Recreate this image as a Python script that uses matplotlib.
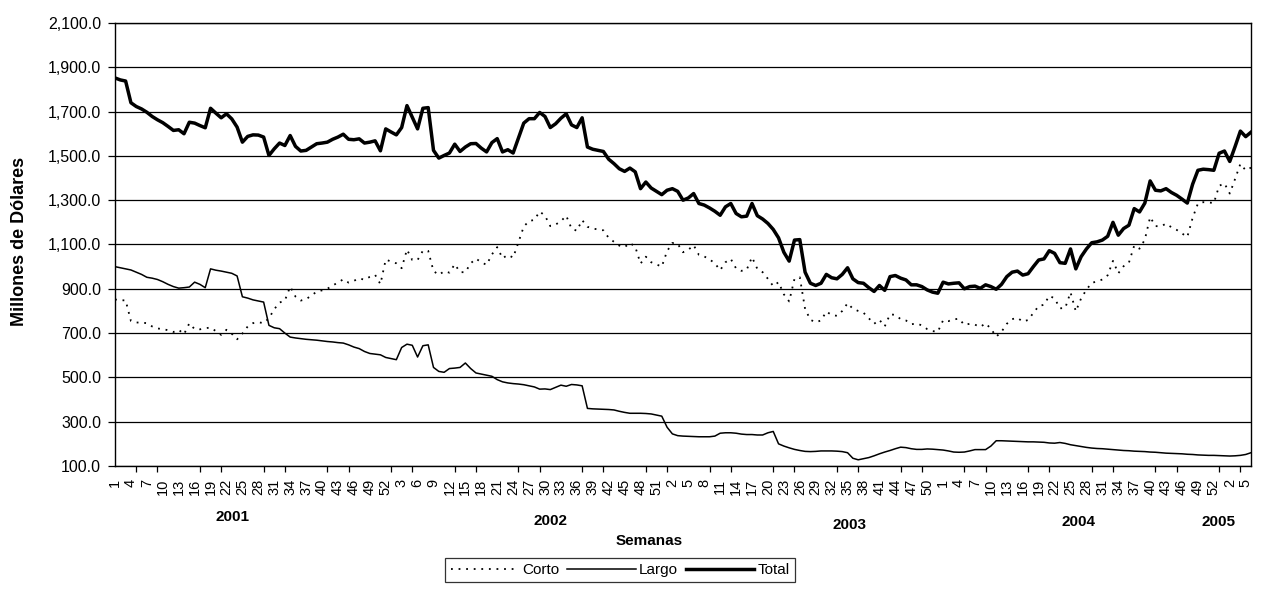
#!/usr/bin/env python3
"""
Posicion semanal: Corto, Largo y Total (millones de dolares), 2001-2005
"""

import matplotlib
matplotlib.use("Agg")
import matplotlib.pyplot as plt

# years on the axis and how many weeks of each are shown
anios = [2001, 2002, 2003, 2004, 2005]
semanas_por_anio = [52, 52, 52, 53, 6]

# weekly values (millones de dolares)
total = [
    1852, 1843, 1838, 1740, 1723, 1712, 1697, 1678, 1663, 1650,
    1633, 1615, 1618, 1600, 1652, 1648, 1637, 1627, 1715, 1693,
    1672, 1690, 1667, 1630, 1562, 1588, 1595, 1594, 1585, 1502,
    1532, 1558, 1547, 1592, 1543, 1522, 1525, 1540, 1555, 1558,
    1562, 1575, 1585, 1598, 1575, 1573, 1577, 1558, 1562, 1568,
    1523, 1622, 1608, 1595, 1628, 1727, 1675, 1622, 1715, 1718,
    1525, 1490, 1502, 1513, 1553, 1520, 1540, 1555, 1556, 1535,
    1518, 1560, 1578, 1518, 1528, 1513, 1580, 1648, 1668, 1668,
    1696, 1678, 1628, 1645, 1670, 1690, 1640, 1628, 1672, 1540,
    1530, 1525, 1520, 1485, 1465, 1442, 1430, 1445, 1428, 1352,
    1382, 1355, 1340, 1325, 1345, 1352, 1340, 1300, 1310, 1330,
    1285, 1278, 1265, 1250, 1232, 1270, 1285, 1240, 1225, 1228,
    1285, 1230, 1215, 1195, 1168, 1130, 1065, 1025, 1120, 1122,
    975, 925, 915, 925, 965, 950, 945, 965, 995, 945,
    928, 925, 905, 888, 915, 893, 955, 960, 948, 940,
    918, 918, 910, 895, 885, 880, 930, 922, 925, 927,
    900, 910, 912, 902, 918, 910, 898, 920, 955, 975,
    980, 962, 968, 1000, 1030, 1035, 1072, 1060, 1018, 1015,
    1080, 990, 1045, 1080, 1108, 1112, 1120, 1137, 1200, 1142,
    1172, 1187, 1262, 1247, 1287, 1387, 1345, 1342, 1352, 1335,
    1322, 1305, 1287, 1372, 1435, 1440, 1438, 1435, 1512, 1522,
    1475, 1542, 1612, 1587, 1607,
]

largo = [
    1000, 995, 990, 985, 975, 965, 952, 948, 942, 932,
    920, 910, 903, 905, 908, 930, 920, 905, 990, 984,
    980, 975, 970, 958, 864, 858, 850, 845, 840, 735,
    724, 720, 700, 682, 678, 675, 672, 670, 668, 665,
    662, 660, 657, 655, 647, 637, 630, 617, 608, 605,
    602, 590, 585, 580, 635, 650, 645, 592, 643, 647,
    545, 527, 523, 540, 542, 545, 565, 540, 520, 515,
    510, 505, 490, 480, 475, 472, 470, 467, 462, 457,
    447, 448, 445, 455, 465, 460, 468, 466, 462, 360,
    358, 357, 356, 355, 353, 347, 342, 338, 338, 338,
    337, 335, 330, 325, 275, 245, 237, 235, 234, 233,
    232, 232, 232, 235, 248, 250, 250, 248, 244, 242,
    242, 240, 240, 250, 256, 200, 190, 182, 175, 170,
    166, 165, 166, 168, 168, 168, 167, 165, 160, 135,
    128, 133, 138, 146, 155, 163, 170, 178, 185, 183,
    178, 175, 175, 177, 176, 174, 172, 168, 163, 162,
    163, 168, 174, 174, 174, 190, 214, 214, 213, 212,
    211, 210, 209, 209, 208, 207, 204, 203, 206, 202,
    196, 192, 188, 184, 181, 179, 178, 176, 174, 172,
    170, 169, 167, 166, 165, 163, 162, 160, 158, 157,
    156, 155, 153, 152, 150, 149, 148, 148, 147, 146,
    145, 146, 148, 152, 160,
]

corto = [
    852, 848, 848, 755, 748, 747, 745, 730, 721, 718,
    713, 705, 715, 695, 744, 718, 717, 722, 725, 709,
    692, 715, 697, 672, 698, 730, 745, 749, 745, 767,
    808, 838, 847, 910, 865, 847, 853, 870, 887, 893,
    900, 915, 928, 943, 928, 936, 947, 941, 954, 963,
    921, 1032, 1023, 1015, 993, 1077, 1030, 1030, 1072, 1071,
    980, 963, 979, 973, 1011, 975, 975, 1015, 1036, 1020,
    1008, 1055, 1088, 1038, 1053, 1041, 1110, 1181, 1206, 1211,
    1249, 1230, 1183, 1190, 1205, 1230, 1172, 1162, 1210, 1180,
    1172, 1168, 1164, 1130, 1112, 1095, 1088, 1107, 1090, 1014,
    1045, 1020, 1010, 1000, 1070, 1107, 1103, 1065, 1076, 1097,
    1053, 1046, 1033, 1015, 984, 1020, 1035, 992, 981, 986,
    1043, 990, 975, 945, 912, 930, 875, 843, 945, 952,
    809, 760, 749, 757, 797, 782, 778, 800, 835, 810,
    800, 792, 767, 742, 760, 730, 785, 782, 763, 757,
    740, 743, 735, 718, 709, 706, 758, 754, 762, 765,
    737, 742, 738, 728, 744, 720, 684, 706, 742, 763,
    769, 752, 759, 791, 822, 828, 868, 857, 812, 813,
    884, 798, 857, 896, 927, 933, 942, 961, 1026, 970,
    1002, 1018, 1095, 1081, 1122, 1224, 1183, 1182, 1194, 1178,
    1166, 1150, 1134, 1220, 1285, 1291, 1290, 1287, 1365, 1376,
    1330, 1396, 1464, 1435, 1447,
]

y_ticks = [100, 300, 500, 700, 900, 1100, 1300, 1500, 1700, 1900, 2100]


def plot_chart():
    plt.rcParams['font.family'] = ['Liberation Sans', 'DejaVu Sans']

    # week number of every point on the category axis
    semanas = []
    for n in semanas_por_anio:
        semanas += list(range(1, n + 1))
    x = list(range(len(semanas)))

    W, H = 1263, 590
    fig = plt.figure(figsize=(W / 100, H / 100), dpi=100)
    ax = fig.add_axes([115 / W, 1 - 466 / H, (1251 - 115) / W, (466 - 23) / H])

    ax.plot(x, corto, color='black', lw=1.3, linestyle=(0, (1.0, 3.2)), label='Corto')
    ax.plot(x, largo, color='black', lw=1.1, label='Largo')
    ax.plot(x, total, color='black', lw=2.5, label='Total')

    ax.set_xlim(0, len(x) - 1)
    ax.set_ylim(100, 2100)

    # y axis
    ax.set_yticks(y_ticks)
    ax.set_yticklabels([f"{v:,.1f}" for v in y_ticks], fontsize=11.5)
    ax.yaxis.grid(True, color='black', lw=0.9)
    ax.set_axisbelow(True)
    ax.tick_params(axis='y', length=5, width=0.9, pad=5)

    # x axis: labels every 3 weeks, tick marks every 4
    ax.set_xticks(x[::3])
    ax.set_xticklabels([str(s) for s in semanas[::3]], rotation=90, fontsize=10.5)
    ax.tick_params(axis='x', which='major', length=0, pad=9)
    ax.set_xticks(x[::4], minor=True)
    ax.tick_params(axis='x', which='minor', length=4, width=0.9, direction='out')

    for sp in ax.spines.values():
        sp.set_color('black')
        sp.set_linewidth(1.0)

    # axis titles and year captions
    fig.text(20 / W, 1 - 241 / H, 'Millones de Dólares', rotation=90,
             ha='center', va='center', fontsize=13, fontweight='bold')
    fig.text(649 / W, 1 - 541 / H, 'Semanas', ha='center', va='center',
             fontsize=11, fontweight='bold')
    year_pos = [(232, 517), (550, 521), (850, 525), (1079, 522), (1218, 522)]
    for anio, (px, py) in zip(anios, year_pos):
        fig.text(px / W, 1 - py / H, str(anio), ha='center', va='center',
                 fontsize=11, fontweight='bold')

    leg = fig.legend(loc='center', bbox_to_anchor=(620 / W, 1 - 570 / H), ncol=3,
                     fontsize=11, handlelength=4.5, handletextpad=0.2,
                     columnspacing=0.5, borderpad=0.35, fancybox=False,
                     frameon=True, edgecolor='black')
    leg.get_frame().set_linewidth(0.9)

    fig.savefig('out.png', dpi=100)


if __name__ == "__main__":
    plot_chart()
